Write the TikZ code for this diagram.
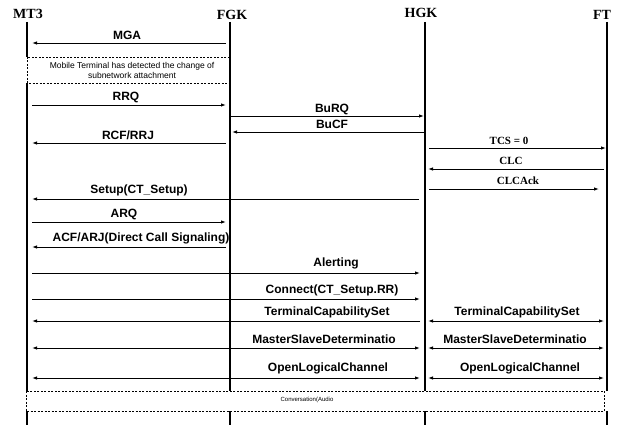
\documentclass[tikz,border=0pt]{standalone}
\usepackage{fontspec}
\setmainfont{Liberation Serif}
\newfontfamily\arialf{Liberation Sans}
\usetikzlibrary{calc,arrows.meta}
\begin{document}
\begin{tikzpicture}[x=1pt,y=-1pt,
  life/.style={line width=1.2pt},
  msg/.style={line width=0.9pt,-{Latex[length=5pt,width=3.5pt]}},
  msgb/.style={line width=0.9pt,{Latex[length=5pt,width=3.5pt]}-{Latex[length=5pt,width=3.5pt]}},
  lbl/.style={font=\arialf\bfseries\fontsize{12}{12}\selectfont, inner sep=0pt},
  slbl/.style={font=\bfseries\fontsize{11}{11}\selectfont, inner sep=0pt},
  hdr/.style={font=\bfseries\fontsize{14}{14}\selectfont, inner sep=0pt},
  dbox/.style={draw, dash pattern=on 2pt off 1.5pt, line width=0.6pt, fill=white},
  boxtxt/.style={font=\arialf\fontsize{8.5}{10}\selectfont, inner sep=0pt, align=center},
]
\useasboundingbox[fill=white] (0,0) rectangle (617,425);

% headers
\node[hdr] (hmt)  at (28,14) {MT3};
\node[hdr] (hfgk) at (232,15) {FGK};
\node[hdr] (hhgk) at (421,13) {HGK};
\node[hdr] (hft)  at (602,15) {FT};

% lifeline anchors
\coordinate (mt)  at (27,22);
\coordinate (fgk) at (230,22);
\coordinate (hgk) at (425,22);
\coordinate (ft)  at (607,22);
\coordinate (mtb)  at (27,425);
\coordinate (fgkb) at (230,425);
\coordinate (hgkb) at (425,425);
\coordinate (ftb)  at (607,425);

% boxes
\draw[dbox] (27,57) rectangle (230,83);
\node[boxtxt] (note1) at (132,70) {Mobile Terminal has detected the change of\\subnetwork attachment};
\draw[dbox] (26,391) rectangle (604,411);
\node[font=\arialf\fontsize{6}{6}\selectfont, inner sep=0pt] (conv) at (307,400) {Conversation(Audio};

% lifelines
\draw[life] (mt) -- (mt|-0,57);
\draw[life] (mt|-0,83) -- (mt|-0,391);
\draw[life] (mt|-0,411) -- (mtb);
\draw[life] (fgk) -- (fgk|-0,391);
\draw[life] (fgk|-0,411) -- (fgkb);
\draw[life] (hgk) -- (hgk|-0,391);
\draw[life] (hgk|-0,411) -- (hgkb);
\draw[life] (ft) -- (ft|-0,391);
\draw[life] (ft|-0,411) -- (ftb);

% messages
\draw[msg] ($(fgk|-0,43)+(-4,0)$) -- ($(mt|-0,43)+(5,0)$);
\node[lbl] (lmga) at (127,35) {MGA};

\draw[msg] ($(mt|-0,105)+(5,0)$) -- ($(fgk|-0,105)+(-4,0)$);
\node[lbl] (lrrq) at (126,97) {RRQ};

\draw[msg] (fgk|-0,116) -- ($(hgk|-0,116)+(-1,0)$);
\node[lbl] (lburq) at (332,109) {BuRQ};

\draw[msg] (hgk|-0,132) -- ($(fgk|-0,132)+(2,0)$);
\node[lbl] (lbucf) at (332,124) {BuCF};

\draw[msg] ($(fgk|-0,143)+(-4,0)$) -- ($(mt|-0,143)+(5,0)$);
\node[lbl] (lrcf) at (128,135) {RCF/RRJ};

\draw[msg] ($(hgk|-0,148)+(4,0)$) -- ($(ft|-0,148)+(-1,0)$);
\node[slbl] (ltcs) at (509,141) {TCS = 0};

\draw[msg] ($(ft|-0,169)+(-3,0)$) -- ($(hgk|-0,169)+(3,0)$);
\node[slbl] (lclc) at (511,161) {CLC};

\draw[msg] ($(hgk|-0,189)+(4,0)$) -- ($(ft|-0,189)+(-8,0)$);
\node[slbl] (lclcack) at (518,181) {CLCAck};

\draw[msg] ($(hgk|-0,199)+(-6,0)$) -- ($(mt|-0,199)+(5,0)$);
\node[lbl] (lsetup) at (139,190) {Setup(CT\_Setup)};

\draw[msg] ($(mt|-0,222)+(5,0)$) -- ($(fgk|-0,222)+(-4,0)$);
\node[lbl] (larq) at (124,214) {ARQ};

\draw[msg] ($(fgk|-0,247)+(-4,0)$) -- ($(mt|-0,247)+(5,0)$);
\node[lbl] (lacf) at (141,238) {ACF/ARJ(Direct Call Signaling)};

\draw[msg] ($(mt|-0,273)+(5,0)$) -- ($(hgk|-0,273)+(-5,0)$);
\node[lbl] (lalert) at (336,263) {Alerting};

\draw[msg] ($(mt|-0,299)+(5,0)$) -- ($(hgk|-0,299)+(-5,0)$);
\node[lbl] (lconn) at (332,290) {Connect(CT\_Setup.RR)};

\draw[msg] ($(hgk|-0,321)+(-5,0)$) -- ($(mt|-0,321)+(5,0)$);
\node[lbl] (ltcs1) at (327,312) {TerminalCapabilitySet};
\draw[msgb] ($(hgk|-0,321)+(3,0)$) -- ($(ft|-0,321)+(-3,0)$);
\node[lbl] (ltcs2) at (517,312) {TerminalCapabilitySet};

\draw[msgb] ($(mt|-0,348)+(5,0)$) -- ($(hgk|-0,348)+(-5,0)$);
\node[lbl] (lmsd1) at (324,339) {MasterSlaveDeterminatio};
\draw[msgb] ($(hgk|-0,348)+(3,0)$) -- ($(ft|-0,348)+(-3,0)$);
\node[lbl] (lmsd2) at (515,339) {MasterSlaveDeterminatio};

\draw[msgb] ($(mt|-0,378)+(5,0)$) -- ($(hgk|-0,378)+(-5,0)$);
\node[lbl] (lolc1) at (328,368) {OpenLogicalChannel};
\draw[msgb] ($(hgk|-0,378)+(3,0)$) -- ($(ft|-0,378)+(-3,0)$);
\node[lbl] (lolc2) at (520,368) {OpenLogicalChannel};
\end{tikzpicture}
\end{document}
